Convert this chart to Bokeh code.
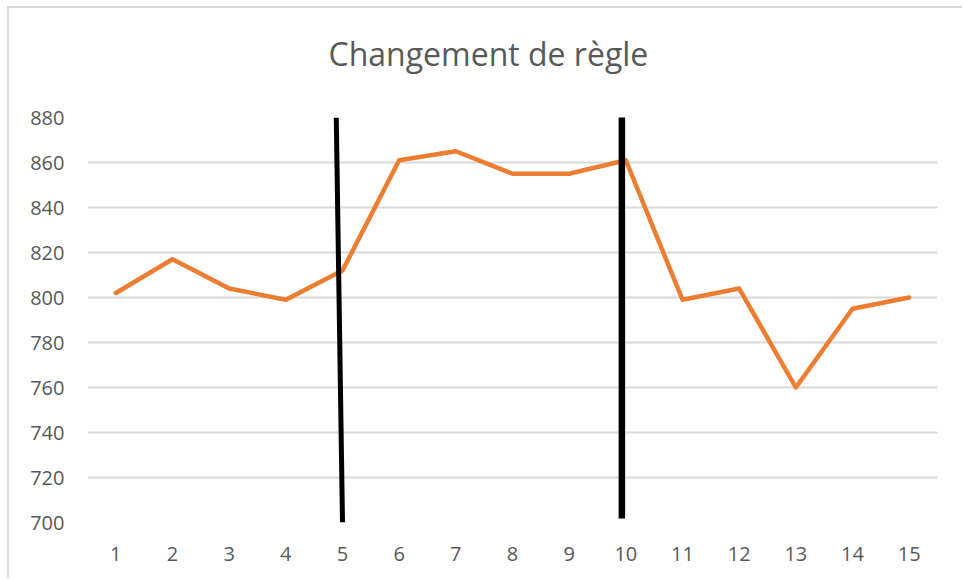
from bokeh.plotting import figure
from bokeh.models import Range1d, FixedTicker, Title
from bokeh.embed import file_html
from bokeh.resources import INLINE

# ---- data ----
rounds = list(range(1, 16))
scores = [802, 817, 804, 799, 812, 861, 865, 855, 855, 861, 799, 804, 760, 795, 800]
y_ticks = [700, 720, 740, 760, 780, 800, 820, 840, 860, 880]
x_ticks = rounds
title_text = "Changement de règle"

# hand-drawn rule-change markers (data coordinates)
rule1_x = [4.89, 5.0]
rule1_y = [880, 700]
rule2_x = [9.93, 9.93]
rule2_y = [880.6, 701.8]

# ---- figure ----
p = figure(width=955, height=572, output_backend="svg", toolbar_location=None,
           x_range=Range1d(0.5, 15.5), y_range=Range1d(700, 880),
           min_border_left=78, min_border_right=27, min_border_top=109,
           min_border_bottom=58)
p.styles = {"margin-left": "9px", "margin-top": "8px",
            "box-shadow": "-2px -2px 0px 0px #d9d9d9"}
p.outline_line_color = None
p.background_fill_color = "white"
p.border_fill_color = "white"

# spacer between frame and title, then the title itself
spacer = Title(text=" ", text_font_size="1px", standoff=40, text_color="white")
main_title = Title(text=title_text, align="left", offset=241, standoff=0,
                   text_font="Open Sans", text_font_size="32px",
                   text_font_style="normal", text_color="#595959")
p.add_layout(spacer, "above")
p.add_layout(main_title, "above")

# axes
for ax in (p.xaxis[0], p.yaxis[0]):
    ax.axis_line_color = None
    ax.major_tick_line_color = None
    ax.minor_tick_line_color = None
    ax.major_tick_out = 0
    ax.major_tick_in = 0
    ax.major_label_text_font = "Open Sans"
    ax.major_label_text_font_size = "20px"
    ax.major_label_text_color = "#595959"
p.xaxis.ticker = FixedTicker(ticks=x_ticks)
p.yaxis.ticker = FixedTicker(ticks=y_ticks)
p.yaxis.major_label_standoff = 23
p.xaxis.major_label_standoff = 24

p.xgrid.grid_line_color = None
p.ygrid.grid_line_color = "#d9d9d9"
p.ygrid.grid_line_width = 2

# series
p.line(rounds, scores, line_color="#ED7D31", line_width=4.5, line_join="round", line_cap="round")

# markers
p.line(rule1_x, rule1_y, line_color="black", line_width=5)
p.line(rule2_x, rule2_y, line_color="black", line_width=6.5)

open("out.html", "w").write(file_html(p, INLINE))
